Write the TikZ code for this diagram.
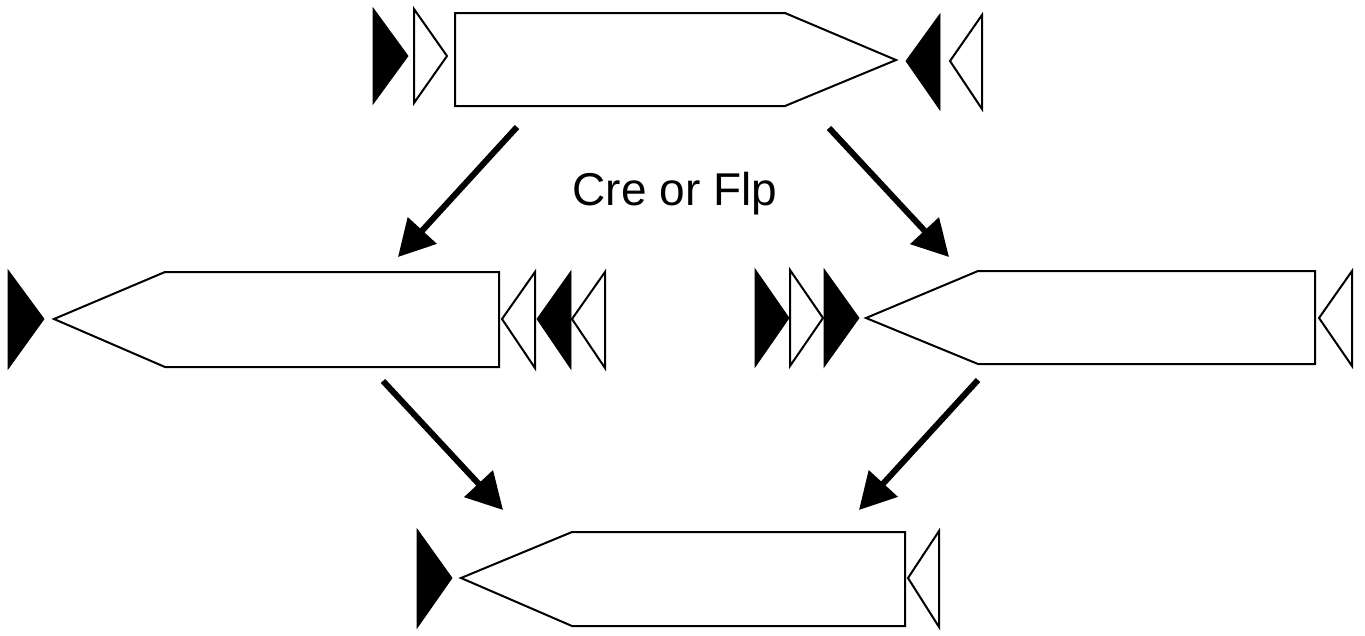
\documentclass[tikz,border=0pt]{standalone}
\usepackage{fontspec}
\setmainfont{Liberation Sans}
\usetikzlibrary{arrows.meta}
\begin{document}
\begin{tikzpicture}[x=1pt,y=-1pt,
  gene/.style={draw=black, line width=2pt, line join=miter, fill=white},
  sitefull/.style={draw=black, line width=0.8pt, fill=black},
  siteopen/.style={draw=black, line width=2pt, line join=miter, fill=white},
  flow/.style={line width=6pt, -{Triangle[length=36pt,width=38pt]}},
]
\useasboundingbox (0,0) rectangle (1365,635);

% ---- starting construct ----
\draw[sitefull] (373,8) -- (408,56) -- (373,104) -- cycle;
\draw[siteopen] (414,9) -- (447,56) -- (414,103) -- cycle;
\draw[gene] (455,13) -- (785,13) -- (896,60) -- (785,106) -- (455,106) -- cycle;
\draw[sitefull] (940,14) -- (906,61) -- (940,110) -- cycle;
\draw[siteopen] (982,15) -- (950,61) -- (982,109) -- cycle;

% ---- intermediate, left ----
\draw[sitefull] (8,270) -- (44,319) -- (8,369) -- cycle;
\draw[gene] (54,319) -- (165,272) -- (499,272) -- (499,367) -- (165,367) -- cycle;
\draw[siteopen] (535,272) -- (502,319) -- (535,368) -- cycle;
\draw[sitefull] (571,271) -- (537,319) -- (571,369) -- cycle;
\draw[siteopen] (605,272) -- (572,319) -- (605,368) -- cycle;

% ---- intermediate, right ----
\draw[sitefull] (755,269) -- (789,318) -- (755,367) -- cycle;
\draw[siteopen] (790,270) -- (823,318) -- (790,366) -- cycle;
\draw[sitefull] (824,269) -- (859,318) -- (824,367) -- cycle;
\draw[gene] (866,318) -- (978,271) -- (1315,271) -- (1315,364) -- (978,364) -- cycle;
\draw[siteopen] (1352,271) -- (1319,318) -- (1352,366) -- cycle;

% ---- final product ----
\draw[sitefull] (417,529) -- (452,578) -- (417,628) -- cycle;
\draw[gene] (461,578) -- (572,532) -- (905,532) -- (905,626) -- (572,626) -- cycle;
\draw[siteopen] (939,531) -- (908,578) -- (939,627) -- cycle;

% ---- recombination steps ----
\coordinate (topL) at (517,127);
\coordinate (topR) at (829,128);
\coordinate (midLin) at (398,257);
\coordinate (midRin) at (949,257);
\coordinate (midLout) at (383,381);
\coordinate (midRout) at (978,380);
\coordinate (botL) at (503,510);
\coordinate (botR) at (859,510);

\draw[flow] (topL) -- (midLin);
\draw[flow] (topR) -- (midRin);
\draw[flow] (midLout) -- (botL);
\draw[flow] (midRout) -- (botR);

\node[anchor=base, inner sep=0pt, font=\fontsize{46}{50}\selectfont] (enzyme) at (675,205) {Cre or Flp};
\end{tikzpicture}
\end{document}
